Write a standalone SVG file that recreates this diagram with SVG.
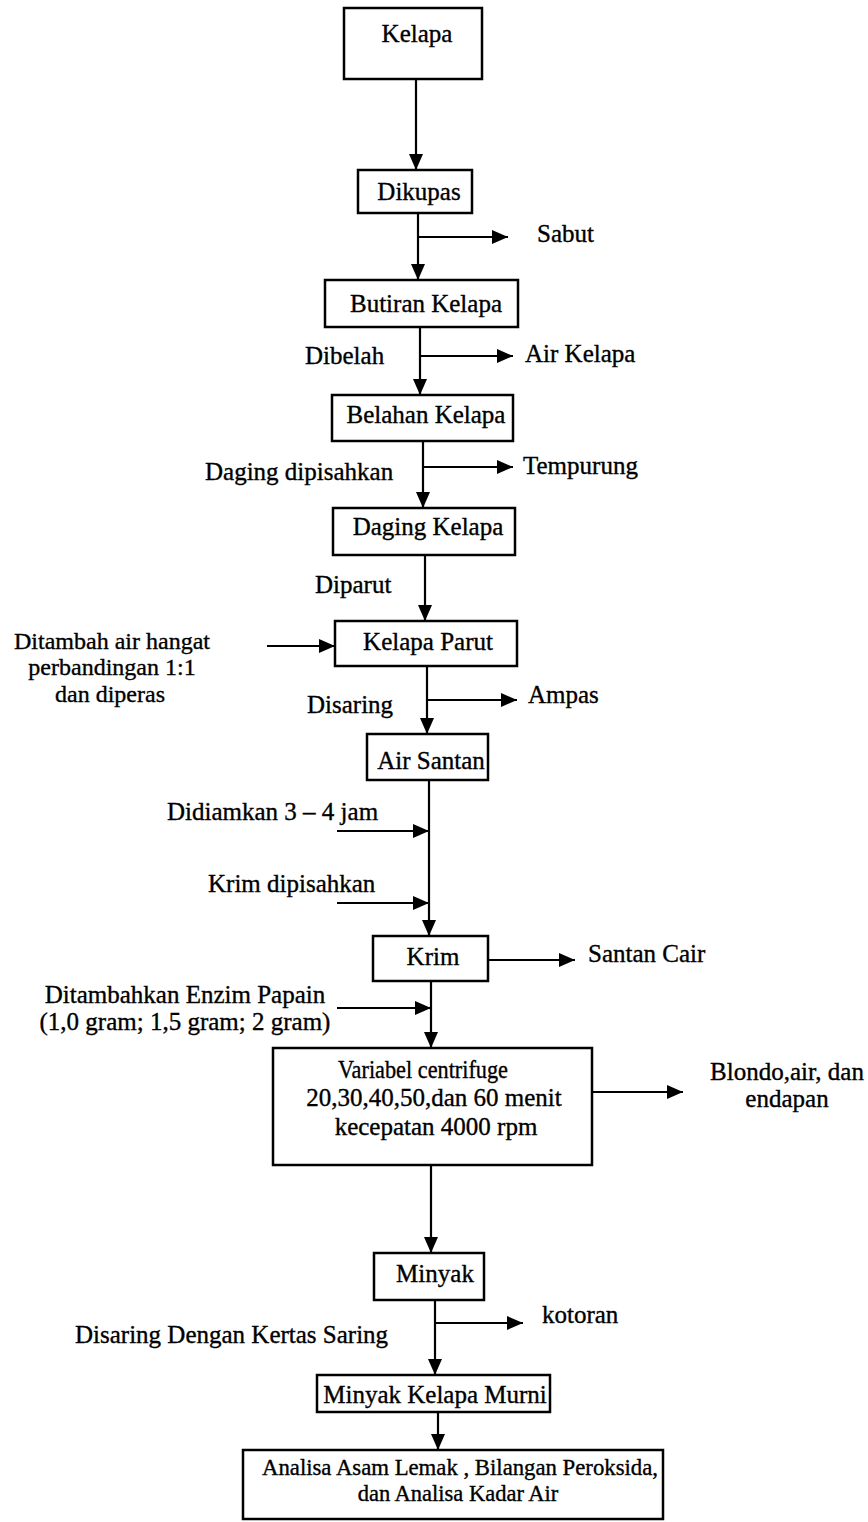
<svg xmlns="http://www.w3.org/2000/svg" width="868" height="1522" viewBox="0 0 868 1522">
<style>
text{font-family:"Liberation Serif","Times New Roman",serif;font-size:25px;fill:#000;stroke:#000;stroke-width:0.35}
.box{fill:#fff;stroke:#000;stroke-width:2.5}
.c{text-anchor:middle}
.sm{font-size:24px}
.an{font-size:22.5px}
.ln{stroke:#000;stroke-width:2.2;fill:none}
.ar{marker-end:url(#ah)}
</style>
<defs>
<marker id="ah" markerUnits="userSpaceOnUse" markerWidth="16" markerHeight="14" refX="16" refY="7" orient="auto">
<path d="M0,0 L16,7 L0,14 Z" fill="#000"/>
</marker>
</defs>
<rect width="868" height="1522" fill="#fff"/>
<g id="connectors">
<line class="ln ar" x1="416" y1="79" x2="416" y2="170"/>
<line class="ln ar" x1="418" y1="213" x2="418" y2="280"/>
<line class="ln ar" x1="418" y1="237" x2="508" y2="237"/>
<line class="ln ar" x1="420" y1="327" x2="420" y2="395"/>
<line class="ln ar" x1="420" y1="356" x2="513" y2="356"/>
<line class="ln ar" x1="423" y1="441" x2="423" y2="508"/>
<line class="ln ar" x1="423" y1="467" x2="513" y2="467"/>
<line class="ln ar" x1="425" y1="555" x2="425" y2="621"/>
<line class="ln ar" x1="267" y1="646" x2="335" y2="646"/>
<line class="ln ar" x1="427" y1="666" x2="427" y2="734"/>
<line class="ln ar" x1="427" y1="700" x2="517" y2="700"/>
<line class="ln ar" x1="429" y1="780" x2="429" y2="936"/>
<line class="ln ar" x1="337" y1="831" x2="429" y2="831"/>
<line class="ln ar" x1="337" y1="903" x2="429" y2="903"/>
<line class="ln ar" x1="488" y1="960" x2="575" y2="960"/>
<line class="ln ar" x1="431" y1="981" x2="431" y2="1048"/>
<line class="ln ar" x1="337" y1="1008" x2="431" y2="1008"/>
<line class="ln ar" x1="592" y1="1092" x2="683" y2="1092"/>
<line class="ln ar" x1="431" y1="1165" x2="431" y2="1253"/>
<line class="ln ar" x1="435" y1="1300" x2="435" y2="1375"/>
<line class="ln ar" x1="435" y1="1323" x2="523" y2="1323"/>
<line class="ln ar" x1="438" y1="1412" x2="438" y2="1450"/>
</g>
<g id="kelapa"><rect class="box" x="344" y="8" width="138" height="71"/><text class="c" x="417" y="42">Kelapa</text></g>
<g id="dikupas"><rect class="box" x="358" y="170" width="114" height="43"/><text class="c" x="419" y="200">Dikupas</text></g>
<g id="butiran"><rect class="box" x="325" y="280" width="193" height="47"/><text class="c" x="426" y="312">Butiran Kelapa</text></g>
<g id="belahan"><rect class="box" x="332" y="395" width="181" height="46"/><text class="c" x="426" y="423">Belahan Kelapa</text></g>
<g id="daging"><rect class="box" x="333" y="508" width="182" height="47"/><text class="c" x="428" y="535">Daging Kelapa</text></g>
<g id="kelapa-parut"><rect class="box" x="335" y="621" width="182" height="45"/><text class="c" x="428" y="650">Kelapa Parut</text></g>
<g id="air-santan"><rect class="box" x="367" y="734" width="121" height="46"/><text class="c" x="431" y="769">Air Santan</text></g>
<g id="krim"><rect class="box" x="373" y="936" width="115" height="45"/><text class="c" x="433" y="965">Krim</text></g>
<g id="variabel"><rect class="box" x="273" y="1048" width="319" height="117"/>
<text class="c" x="423" y="1078" textLength="170" lengthAdjust="spacingAndGlyphs">Variabel centrifuge</text>
<text class="c" x="434" y="1106">20,30,40,50,dan 60 menit</text>
<text class="c" x="436" y="1135">kecepatan 4000 rpm</text></g>
<g id="minyak"><rect class="box" x="374" y="1253" width="110" height="47"/><text class="c" x="435" y="1282">Minyak</text></g>
<g id="minyak-kelapa-murni"><rect class="box" x="317" y="1375" width="233" height="37"/><text class="c" x="435" y="1403">Minyak Kelapa Murni</text></g>
<g id="analisa"><rect class="box" x="243" y="1450" width="420" height="69"/>
<text class="c an" x="460" y="1475" textLength="396" lengthAdjust="spacingAndGlyphs">Analisa Asam Lemak , Bilangan Peroksida,</text>
<text class="c an" x="458" y="1501">dan Analisa Kadar Air</text></g>
<g id="labels">
<text x="537" y="242">Sabut</text>
<text x="305" y="364">Dibelah</text>
<text x="525" y="362">Air Kelapa</text>
<text x="205" y="480">Daging dipisahkan</text>
<text x="523" y="474">Tempurung</text>
<text x="315" y="593">Diparut</text>
<text class="c sm" x="112" y="649">Ditambah air hangat</text>
<text class="c sm" x="112" y="675">perbandingan 1:1</text>
<text class="c sm" x="110" y="702">dan diperas</text>
<text x="307" y="713">Disaring</text>
<text x="528" y="703">Ampas</text>
<text x="167" y="820">Didiamkan 3 – 4 jam</text>
<text x="208" y="892">Krim dipisahkan</text>
<text x="588" y="962">Santan Cair</text>
<text class="c" x="185" y="1003">Ditambahkan Enzim Papain</text>
<text class="c" x="185" y="1030">(1,0 gram; 1,5 gram; 2 gram)</text>
<text class="c" x="787" y="1080">Blondo,air, dan</text>
<text class="c" x="787" y="1107">endapan</text>
<text x="75" y="1343">Disaring Dengan Kertas Saring</text>
<text x="542" y="1323">kotoran</text>
</g>
</svg>
